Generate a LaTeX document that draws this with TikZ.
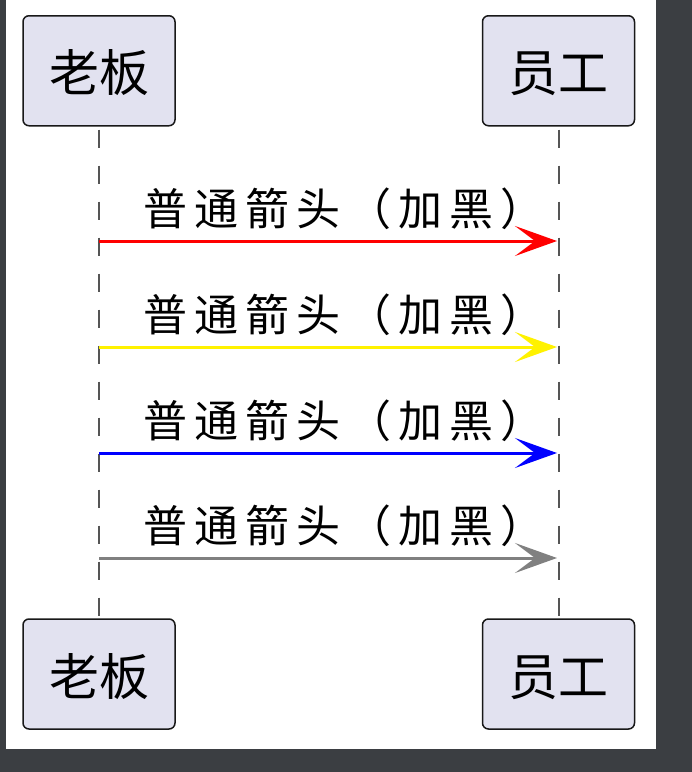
\documentclass[tikz,border=0pt]{standalone}
\usepackage{fontspec}
\usepackage{tikz}
\usetikzlibrary{positioning,arrows.meta,calc}
\usepackage{xcolor}
\newfontfamily\cjkfont{Noto Sans CJK SC}
\newfontfamily\msgfont[LetterSpace=16]{Noto Sans CJK SC}
\definecolor{pageDark}{HTML}{3B3E42}
\definecolor{actorFill}{HTML}{E2E2F0}
\definecolor{actorLine}{HTML}{181818}
\definecolor{lifeGray}{HTML}{555555}

\begin{document}
\begin{tikzpicture}[x=1pt, y=-1pt,
    actorBox/.style={rectangle, rounded corners=6pt, draw=actorLine, fill=actorFill, line width=1.5pt, minimum width=152pt, minimum height=110pt, inner sep=0pt, font=\fontsize{50}{50}\cjkfont, text height=46pt, text depth=4pt},
    lifeLine/.style={draw=lifeGray, line width=2pt, dash pattern=on 18pt off 18pt, dash phase=33pt},
    msgArrow/.style={-{Stealth[length=42pt, width=30pt, inset=20pt]}, line width=3pt, shorten >=1.5pt},
    msgText/.style={anchor=base west, inner sep=0pt, font=\fontsize{44}{44}\msgfont}
]
    \useasboundingbox (0,0) rectangle (692,772);
    \fill[pageDark] (0,0) rectangle (692,772);
    \fill[white] (6,0) rectangle (656,749);

    % Teilnehmer oben
    \node[actorBox] (bossTop) at (99, 70.75) {老板};
    \node[actorBox] (staffTop) at (558.5, 70.75) {员工};

    % Teilnehmer unten
    \node[actorBox] (bossBottom) at (99, 674) {老板};
    \node[actorBox] (staffBottom) at (558.5, 674) {员工};

    % Lebenslinien
    \draw[lifeLine] (bossTop.south) -- (bossBottom.north);
    \draw[lifeLine] (staffTop.south) -- (staffBottom.north);

    % Nachrichten
    \draw[msgArrow, draw=red, fill=red] (bossTop.south |- 0,241) -- (staffTop.south |- 0,241);
    \node[msgText] (msgRed) at (143, 225) {普通箭头（加黑）};

    \draw[msgArrow, draw=yellow, fill=yellow] (bossTop.south |- 0,347) -- (staffTop.south |- 0,347);
    \node[msgText] (msgYellow) at (143, 331) {普通箭头（加黑）};

    \draw[msgArrow, draw=blue, fill=blue] (bossTop.south |- 0,453) -- (staffTop.south |- 0,453);
    \node[msgText] (msgBlue) at (143, 437) {普通箭头（加黑）};

    \draw[msgArrow, draw=gray, fill=gray] (bossTop.south |- 0,558) -- (staffTop.south |- 0,558);
    \node[msgText] (msgGray) at (143, 542) {普通箭头（加黑）};
\end{tikzpicture}
\end{document}
